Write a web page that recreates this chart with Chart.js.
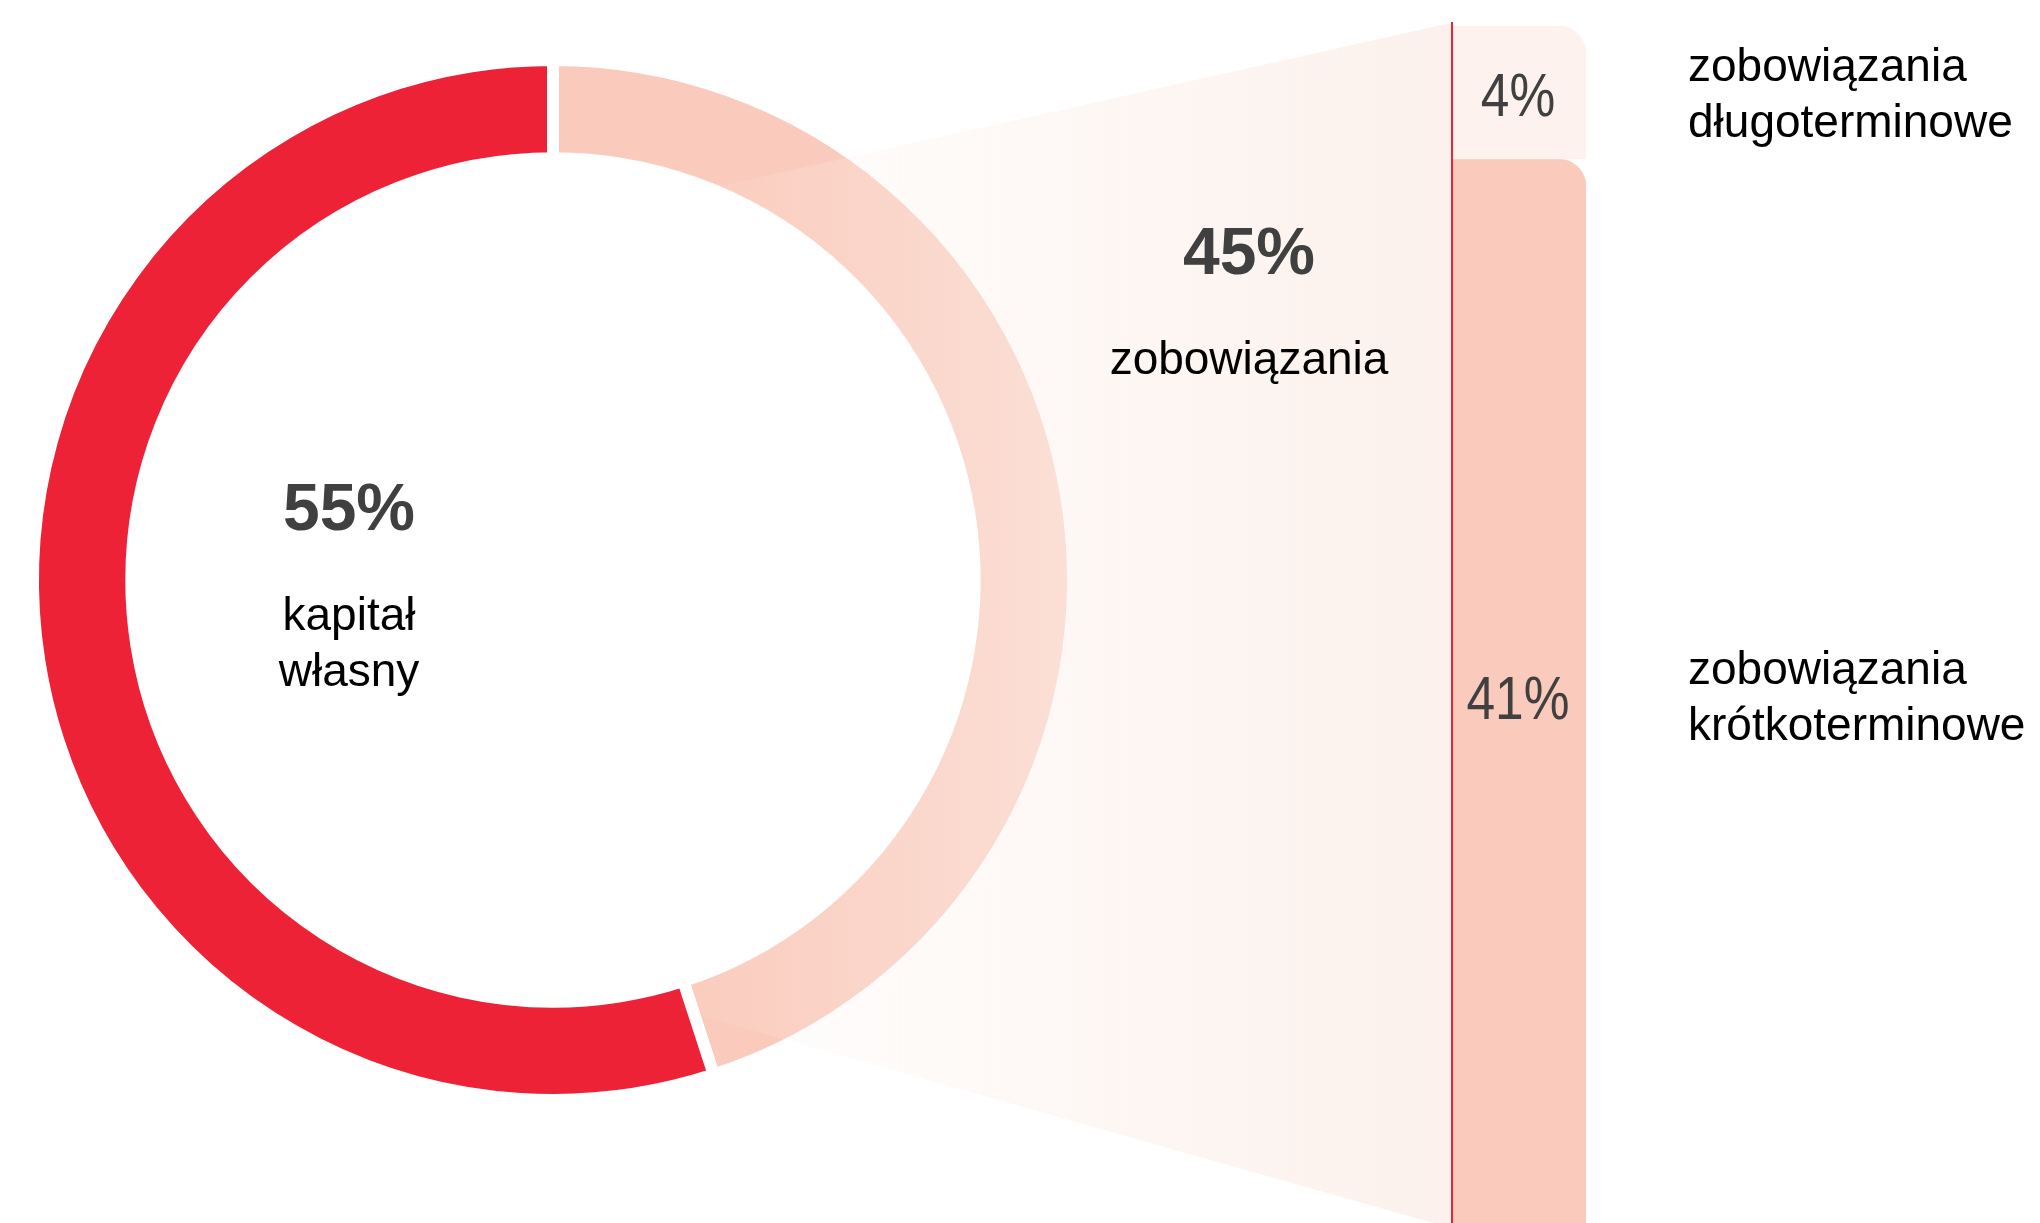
<!DOCTYPE html>
<html lang="pl">
<head>
<meta charset="utf-8">
<title>Struktura pasywów</title>
<script src="https://cdn.jsdelivr.net/npm/chart.js@4.4.1/dist/chart.umd.min.js"></script>
<style>
  html, body { margin: 0; padding: 0; background: #fff; }
  #wrap { position: relative; width: 2040px; height: 1223px; overflow: hidden; font-family: "Liberation Sans", Arial, sans-serif; }
  canvas { position: absolute; top: 0; }
  #donut { left: 0; }
  #bar { left: 1400px; }
  .lbl { position: absolute; white-space: nowrap; transform: translate(-50%, -50%); text-align: center; }
  .big { font-weight: bold; font-size: 66px; color: #404040; }
  .txt { font-size: 46px; color: #000; line-height: 56px; }
  .pct { font-size: 62px; color: #404040; transform: translate(-50%, -50%) scaleX(0.83); }
  .side { position: absolute; font-size: 46px; color: #000; line-height: 56px; white-space: nowrap; transform: translateY(-50%); }
</style>
</head>
<body>
<div id="wrap">
  <canvas id="donut" width="2040" height="1223"></canvas>
  <canvas id="bar" width="240" height="1223"></canvas>

  <div class="lbl big" style="left:349px; top:507px;">55%</div>
  <div class="lbl txt" style="left:349px; top:642px;">kapitał<br>własny</div>

  <div class="lbl big" style="left:1249px; top:251px;">45%</div>
  <div class="lbl txt" style="left:1249px; top:358px;">zobowiązania</div>

  <div class="lbl pct" style="left:1518px; top:94px;">4%</div>
  <div class="lbl pct" style="left:1518px; top:697px;">41%</div>

  <div class="side" style="left:1688px; top:93px;">zobowiązania<br>długoterminowe</div>
  <div class="side" style="left:1688px; top:696px;">zobowiązania<br>krótkoterminowe</div>
</div>

<script>
// struktura pasywów (%)
const kategorie = ['zobowiązania', 'kapitał własny'];
const udzialy = [45, 55];
const koloryKola = ['#FACBBC', '#ED2237'];

// rozbicie zobowiązań
const zobowiazaniaEtykiety = ['zobowiązania długoterminowe', 'zobowiązania krótkoterminowe'];
const zobowiazaniaWartosci = [4, 41];
const koloryZobowiazan = ['#FDF2EE', '#FACBBC'];

const BAR_LEFT = 1451; // lewa krawedz slupka na stronie
const BAR_TOP = 26;

// "lejek" z pola zobowiazan do slupka, z przezroczystym gradientem
const lejek = {
  id: 'lejek',
  afterDatasetsDraw(chart) {
    const ctx = chart.ctx;
    const arc = chart.getDatasetMeta(0).data[0];
    const cx = arc.x, cy = arc.y;
    const wew = arc.innerRadius + 6;
    ctx.save();
    ctx.beginPath();
    ctx.moveTo(680, 195);
    ctx.lineTo(BAR_LEFT, 23);
    ctx.lineTo(BAR_LEFT, 1228);
    ctx.lineTo(680, 1010);
    ctx.closePath();
    ctx.moveTo(cx + wew, cy);
    ctx.arc(cx, cy, wew, 0, Math.PI * 2, true);
    const g = ctx.createLinearGradient(660, 0, BAR_LEFT, 0);
    g.addColorStop(0, 'rgba(252,241,236,0)');
    g.addColorStop(1, 'rgba(252,241,236,1)');
    ctx.fillStyle = g;
    ctx.fill('evenodd');
    ctx.restore();
  }
};

new Chart(document.getElementById('donut'), {
  type: 'doughnut',
  data: {
    labels: kategorie,
    datasets: [{
      data: udzialy,
      backgroundColor: koloryKola,
      borderColor: '#ffffff',
      borderWidth: 12,
      hoverOffset: 0
    }]
  },
  options: {
    responsive: false,
    animation: false,
    cutout: '81.1%',
    layout: { padding: { left: 27, top: 54, right: 961, bottom: 117 } },
    plugins: { legend: { display: false }, tooltip: { enabled: false } }
  },
  plugins: [lejek]
});

// czerwona linia wzdluz lewej krawedzi slupka
const liniaOsi = {
  id: 'liniaOsi',
  afterDatasetsDraw(chart) {
    const ctx = chart.ctx;
    const x = chart.chartArea.left + 1;
    ctx.save();
    ctx.strokeStyle = '#ED2237';
    ctx.lineWidth = 2;
    ctx.beginPath();
    ctx.moveTo(x, chart.chartArea.top - 4);
    ctx.lineTo(x, chart.height);
    ctx.stroke();
    ctx.restore();
  }
};

new Chart(document.getElementById('bar'), {
  type: 'bar',
  data: {
    labels: ['zobowiązania'],
    datasets: zobowiazaniaWartosci.map((v, i) => ({
      label: zobowiazaniaEtykiety[i],
      data: [v],
      backgroundColor: koloryZobowiazan[i],
      borderWidth: 0,
      borderSkipped: false,
      borderRadius: { topRight: 28 },
      categoryPercentage: 1,
      barPercentage: 1
    }))
  },
  options: {
    responsive: false,
    animation: false,
    layout: { padding: { left: BAR_LEFT - 1400, right: 240 - 186, top: BAR_TOP, bottom: 0 } },
    scales: {
      x: { display: false, stacked: true },
      y: { display: false, stacked: true, reverse: true, min: 0, max: 36 }
    },
    plugins: { legend: { display: false }, tooltip: { enabled: false } }
  },
  plugins: [liniaOsi]
});
</script>
</body>
</html>
